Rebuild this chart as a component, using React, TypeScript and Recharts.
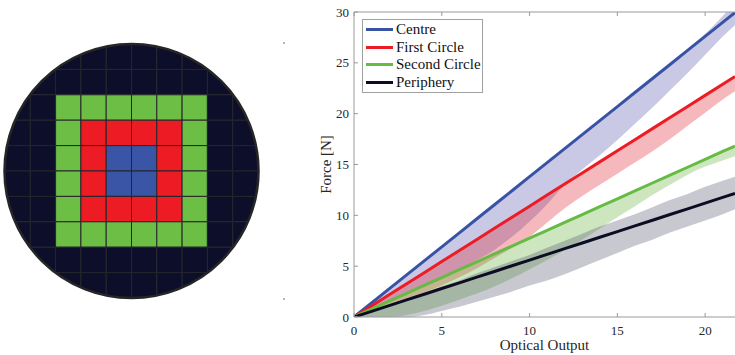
import React from 'react';
import {
  ComposedChart, Line, Area, XAxis, YAxis, Legend,
  ScatterChart, Scatter, ReferenceDot,
} from 'recharts';

const SERIF = 'Liberation Serif';

// taxel layout of the sensor, 10 x 10, rows from the top
// C = centre, F = first circle, S = second circle, P = periphery
const LAYOUT = [
  'PPPPPPPPPP',
  'PPPPPPPPPP',
  'PPSSSSSSPP',
  'PPSFFFFSPP',
  'PPSFCCFSPP',
  'PPSFCCFSPP',
  'PPSFFFFSPP',
  'PPSSSSSSPP',
  'PPPPPPPPPP',
  'PPPPPPPPPP',
];
const REGION_COLORS: Record<string, string> = {
  C: '#3a55a5', F: '#ed1c24', S: '#6cbe45', P: '#0d0f2a',
};

// calibration curves, force vs optical output
const OUTPUT = [0, 1, 2, 3, 4, 5, 6, 7, 8, 9, 10, 11, 12, 13, 14, 15, 16, 17, 18, 19, 20, 21, 21.7];

const CENTRE = [0, 1.38, 2.76, 4.14, 5.52, 6.9, 8.28, 9.66, 11.04, 12.42, 13.8, 15.18, 16.56, 17.94, 19.32, 20.7, 22.08, 23.46, 24.84, 26.22, 27.6, 28.98, 29.95];
const CENTRE_LO = [0, 0.8, 1.5, 2.3, 3.1, 3.9, 4.7, 5.6, 6.6, 7.9, 9.4, 11.1, 13.0, 14.5, 15.9, 17.4, 19.0, 20.6, 22.3, 24.0, 25.8, 27.6, 28.7];
const CENTRE_HI = [0, 1.38, 2.76, 4.14, 5.52, 6.9, 8.28, 9.66, 11.04, 12.42, 13.8, 15.18, 16.56, 17.94, 19.32, 20.7, 22.08, 23.46, 24.9, 26.35, 27.85, 29.6, 31.0];

const FIRST = [0, 1.09, 2.18, 3.27, 4.36, 5.45, 6.54, 7.63, 8.72, 9.81, 10.9, 11.99, 13.08, 14.17, 15.26, 16.35, 17.44, 18.53, 19.62, 20.71, 21.8, 22.89, 23.65];
const FIRST_LO = [0, 0.5, 1.1, 1.7, 2.4, 3.1, 3.9, 4.8, 5.8, 6.8, 7.9, 9.3, 10.7, 11.9, 13.0, 14.1, 15.2, 16.3, 17.5, 18.8, 20.1, 21.4, 22.2];
const FIRST_HI = [0, 1.09, 2.18, 3.27, 4.36, 5.45, 6.54, 7.63, 8.72, 9.81, 10.9, 11.99, 13.08, 14.17, 15.26, 16.35, 17.44, 18.53, 19.62, 20.71, 21.8, 22.89, 23.65];

const SECOND = [0, 0.775, 1.55, 2.33, 3.1, 3.88, 4.65, 5.43, 6.2, 6.98, 7.75, 8.53, 9.3, 10.08, 10.85, 11.63, 12.4, 13.18, 13.95, 14.73, 15.5, 16.28, 16.82];
const SECOND_LO = [0, 0, 0, 0.2, 0.6, 1.1, 1.7, 2.3, 3.0, 3.8, 4.7, 5.6, 6.6, 7.6, 8.7, 9.8, 10.9, 12.0, 13.0, 14.0, 14.8, 15.4, 15.8];
const SECOND_HI = [0, 0.775, 1.55, 2.33, 3.1, 3.88, 4.65, 5.43, 6.2, 6.98, 7.75, 8.53, 9.3, 10.08, 10.85, 11.63, 12.4, 13.18, 13.95, 14.73, 15.5, 16.28, 16.82];

const PERIPHERY = [0, 0.56, 1.12, 1.68, 2.24, 2.8, 3.36, 3.92, 4.48, 5.04, 5.6, 6.16, 6.72, 7.28, 7.84, 8.4, 8.96, 9.52, 10.08, 10.64, 11.2, 11.76, 12.15];
const PERIPHERY_LO = [0, 0, 0, 0, 0.2, 0.6, 1.0, 1.5, 2.0, 2.5, 3.1, 3.6, 4.2, 4.9, 5.6, 6.3, 7.0, 7.6, 8.3, 8.9, 9.5, 10.1, 10.6];
const PERIPHERY_HI = [0, 0.6, 1.2, 1.8, 2.4, 3.0, 3.6, 4.3, 4.9, 5.5, 6.1, 6.8, 7.5, 8.2, 8.9, 9.5, 10.1, 10.8, 11.5, 12.1, 12.8, 13.4, 13.8];

const X_TICKS = [0, 5, 10, 15, 20];
const Y_TICKS = [0, 5, 10, 15, 20, 25, 30];

const SERIES = [
  { key: 'centre', name: 'Centre', mean: CENTRE, lo: CENTRE_LO, hi: CENTRE_HI, line: '#3953a4', band: '#4b4bac' },
  { key: 'first', name: 'First Circle', mean: FIRST, lo: FIRST_LO, hi: FIRST_HI, line: '#ed1c24', band: '#df1723' },
  { key: 'second', name: 'Second Circle', mean: SECOND, lo: SECOND_LO, hi: SECOND_HI, line: '#66bb44', band: '#58ac2d' },
  { key: 'periphery', name: 'Periphery', mean: PERIPHERY, lo: PERIPHERY_LO, hi: PERIPHERY_HI, line: '#0c0d24', band: '#484b62' },
];

const rows = OUTPUT.map((x, i) => {
  const row: Record<string, any> = { x };
  SERIES.forEach((s) => {
    row[s.key] = s.mean[i];
    row[s.key + 'Band'] = [s.lo[i], s.hi[i]];
  });
  return row;
});

const cells = LAYOUT.flatMap((line, r) =>
  line.split('').map((region, c) => ({ col: c + 0.5, row: r + 0.5, region }))
);

const LEFT_W = 300;
const LEFT_H = 355;
const LEFT_MARGIN = { top: 44, right: 42, bottom: 57, left: 5 };
const CELL_W = (LEFT_W - LEFT_MARGIN.left - LEFT_MARGIN.right) / 10;
const CELL_H = (LEFT_H - LEFT_MARGIN.top - LEFT_MARGIN.bottom) / 10;

const Taxel = (props: any) => {
  const { cx, cy, payload } = props;
  return (
    <rect
      x={cx - CELL_W / 2}
      y={cy - CELL_H / 2}
      width={CELL_W}
      height={CELL_H}
      fill={REGION_COLORS[payload.region]}
      stroke="#25252c"
      strokeWidth={1}
    />
  );
};

const XTick = (props: any) => {
  const { x, y, payload } = props;
  return (
    <text x={x} y={y + 9} textAnchor="middle" fill="#262626" fontSize={13} fontFamily={SERIF}>
      {payload.value}
    </text>
  );
};

const YTick = (props: any) => {
  const { x, y, payload } = props;
  return (
    <text x={x} y={y + 4.5} textAnchor="end" fill="#262626" fontSize={13} fontFamily={SERIF}>
      {payload.value}
    </text>
  );
};

const LegendBox = () => (
  <div
    style={{
      border: '1px solid #a0a0a0',
      background: '#fff',
      padding: '1px 4px 1px 3px',
      width: 112,
    }}
  >
    {SERIES.map((s) => (
      <div key={s.key} style={{ display: 'flex', alignItems: 'center', height: 17.5 }}>
        <span style={{ display: 'inline-block', width: 27, height: 3, background: s.line, marginRight: 3, flex: 'none' }} />
        <span style={{ fontFamily: SERIF, fontSize: 15, color: '#111', lineHeight: '17.5px', whiteSpace: 'nowrap' }}>{s.name}</span>
      </div>
    ))}
  </div>
);

export default function App() {
  return (
    <div style={{ position: 'absolute', left: 0, top: 0, width: 735, height: 355, background: '#fff', overflow: 'hidden' }}>
      <div style={{ position: 'absolute', left: 0, top: 0 }}>
        <ScatterChart width={LEFT_W} height={LEFT_H} margin={LEFT_MARGIN}>
          <XAxis type="number" dataKey="col" domain={[0, 10]} hide />
          <YAxis type="number" dataKey="row" domain={[0, 10]} reversed hide />
          <Scatter data={cells} shape={Taxel} isAnimationActive={false} />
          <ReferenceDot x={5} y={5} r={157} fill="none" stroke="#ffffff" strokeWidth={60} />
          <ReferenceDot x={5} y={5} r={127} fill="none" stroke="#262626" strokeWidth={2.5} />
        </ScatterChart>
      </div>
      <div style={{ position: 'absolute', left: 283, top: 42, width: 2, height: 2, background: '#b8b8b8' }} />
      <div style={{ position: 'absolute', left: 283, top: 298, width: 2, height: 2, background: '#b8b8b8' }} />

      <div style={{ position: 'absolute', left: 300, top: 0 }}>
        <ComposedChart width={435} height={355} data={rows} margin={{ top: 0, right: 0, bottom: 0, left: 0 }}>
          <XAxis
            xAxisId="top"
            orientation="top"
            type="number"
            dataKey="x"
            domain={[0, 21.7]}
            ticks={X_TICKS}
            height={12}
            tickSize={-4}
            tickFormatter={() => ''}
            stroke="#9a9a9a"
            allowDataOverflow
          />
          <XAxis
            type="number"
            dataKey="x"
            domain={[0, 21.7]}
            ticks={X_TICKS}
            height={38}
            tickSize={-4}
            tickMargin={13}
            tick={<XTick />}
            stroke="#9a9a9a"
            allowDataOverflow
            label={{ value: 'Optical Output', position: 'insideBottom', offset: 5, fill: '#262626', fontSize: 15, fontFamily: SERIF }}
          />
          <YAxis
            type="number"
            domain={[0, 30]}
            ticks={Y_TICKS}
            width={54}
            tickSize={-4}
            tickMargin={9}
            tick={<YTick />}
            stroke="#9a9a9a"
            allowDataOverflow
            label={{ value: 'Force [N]', angle: -90, position: 'center', dx: -1, fill: '#262626', fontSize: 15, fontFamily: SERIF }}
          />
          {SERIES.map((s) => (
            <Area
              key={s.key + 'Band'}
              type="monotone"
              dataKey={s.key + 'Band'}
              stroke="none"
              fill={s.band}
              fillOpacity={0.3}
              isAnimationActive={false}
              legendType="none"
            />
          ))}
          {SERIES.map((s) => (
            <Line
              key={s.key}
              type="linear"
              dataKey={s.key}
              name={s.name}
              stroke={s.line}
              strokeWidth={3}
              dot={false}
              isAnimationActive={false}
            />
          ))}
          <Legend
            layout="vertical"
            align="center"
            verticalAlign="middle"
            wrapperStyle={{ left: 62, top: 19, width: 'auto' }}
            content={() => <LegendBox />}
          />
        </ComposedChart>
      </div>
    </div>
  );
}
